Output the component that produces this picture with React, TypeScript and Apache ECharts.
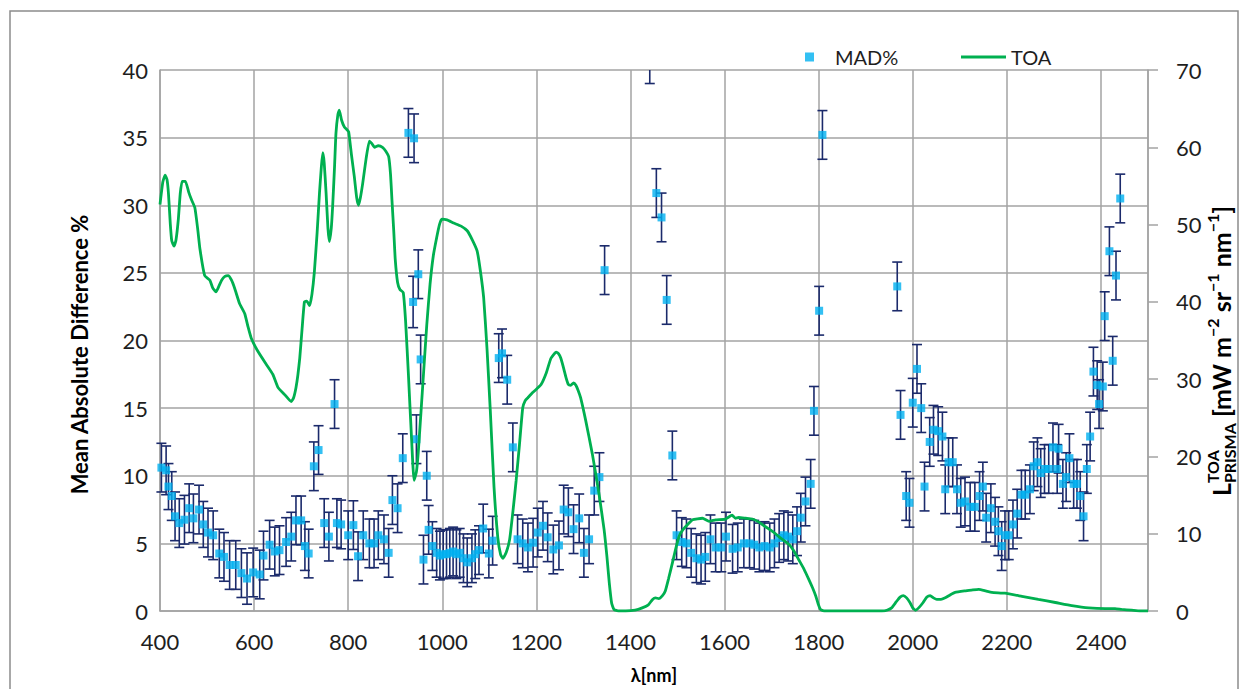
import React, { useEffect, useRef } from "react";
import * as echarts from "echarts";

// ---- Data ----
const xTicks = [400, 600, 800, 1000, 1200, 1400, 1600, 1800, 2000, 2200, 2400];

const madWavelengths = [
  403, 413, 418, 425, 432, 441, 452, 462, 471, 483, 492, 502, 513, 526, 536, 548, 561, 573, 585, 598,
  612, 620, 633, 644, 654, 668, 679, 689, 700, 708, 716, 727, 737, 749, 759, 771, 776, 785, 800, 811,
  821, 832, 845, 855, 864, 876, 886, 894, 905, 916, 928, 938, 940, 945, 949, 954, 960, 967, 971, 979,
  988, 995, 1002, 1009, 1016, 1023, 1030, 1037, 1045, 1053, 1063, 1070, 1078, 1087, 1099, 1107, 1120, 1127, 1138, 1150,
  1160, 1171, 1182, 1193, 1203, 1214, 1224, 1236, 1248, 1258, 1268, 1279, 1291, 1301, 1312, 1323, 1334, 1345, 1441, 1455,
  1466, 1477, 1489, 1498, 1509, 1519, 1529, 1540, 1550, 1559, 1570, 1581, 1593, 1603, 1617, 1628, 1641, 1653, 1663, 1674,
  1685, 1696, 1706, 1716, 1726, 1735, 1745, 1754, 1762, 1772, 1783, 1790, 1801, 1808, 1967, 1974, 1986, 1993, 2000, 2009,
  2018, 2025, 2036, 2044, 2054, 2063, 2069, 2076, 2085, 2094, 2102, 2111, 2122, 2132, 2142, 2149, 2156, 2166, 2175, 2182,
  2189, 2196, 2204, 2213, 2222, 2231, 2239, 2249, 2257, 2265, 2272, 2280, 2289, 2298, 2307, 2310, 2319, 2326, 2333, 2342,
  2349, 2356, 2363, 2370, 2377, 2384, 2392, 2396, 2404, 2408, 2418, 2425, 2432, 2441,
];

const madValues = [
  10.6, 10.4, 9.2, 8.5, 7.0, 6.5, 6.75, 7.6, 6.85, 7.5, 6.4, 5.8, 5.6, 4.25, 4.0, 3.4, 3.4, 2.8, 2.4, 2.85,
  2.7, 4.1, 4.9, 4.4, 4.5, 5.1, 5.5, 6.7, 6.7, 4.8, 4.25, 10.7, 11.9, 6.5, 5.5, 15.3, 6.5, 6.4, 5.6, 6.35,
  4.05, 5.6, 5.0, 5.0, 5.6, 5.3, 4.3, 8.2, 7.6, 11.3, 35.35, 22.85, 34.95, 12.7, 24.9, 18.6, 3.8, 10.0, 6.0, 4.8,
  4.3, 4.1, 4.2, 4.2, 4.3, 4.4, 4.2, 4.3, 3.9, 3.6, 3.9, 4.2, 4.5, 6.1, 4.25, 5.2, 18.7, 19.05, 17.1, 12.1,
  5.3, 5.0, 4.7, 5.05, 5.8, 6.3, 5.45, 4.55, 4.85, 7.5, 7.3, 6.05, 6.85, 4.3, 5.3, 8.9, 9.9, 25.2, 40.8, 30.9,
  29.1, 23.0, 11.5, 5.6, 5.1, 5.0, 4.3, 3.9, 3.8, 4.0, 5.3, 4.7, 4.7, 5.5, 4.6, 4.7, 5.0, 5.0, 4.9, 4.7,
  4.8, 4.7, 5.0, 5.4, 5.6, 5.5, 5.3, 5.9, 6.9, 8.1, 9.4, 14.8, 22.2, 35.2, 24.0, 14.5, 8.5, 8.0, 15.4, 17.9,
  15.0, 9.2, 12.5, 13.4, 13.3, 12.9, 9.0, 11.0, 11.0, 9.0, 8.0, 8.1, 7.7, 7.7, 8.5, 9.2, 6.9, 7.6, 6.6, 5.9,
  4.8, 5.6, 5.6, 6.4, 7.2, 8.6, 8.6, 9.0, 10.7, 11.0, 10.2, 10.5, 10.5, 12.1, 10.5, 12.0, 9.4, 9.9, 11.3, 9.4,
  9.4, 8.5, 7.0, 10.5, 12.9, 17.7, 16.7, 15.3, 16.6, 21.8, 26.6, 18.5, 24.8, 30.5,
];

const madErrors = [
  1.8, 1.8, 1.7, 1.8, 1.8, 1.8, 1.8, 1.8, 1.8, 1.8, 1.7, 1.8, 1.8, 1.8, 1.8, 1.8, 1.8, 1.8, 1.9, 1.8,
  1.8, 1.8, 1.8, 1.8, 1.8, 1.8, 1.8, 1.8, 1.8, 1.8, 1.8, 1.8, 1.8, 1.8, 1.8, 1.8, 1.8, 1.8, 1.8, 1.8,
  1.8, 1.8, 1.8, 1.8, 1.8, 1.8, 1.8, 1.8, 1.8, 1.8, 1.8, 1.9, 1.8, 1.8, 1.8, 1.8, 1.8, 1.8, 1.8, 1.8,
  1.8, 1.8, 1.8, 1.8, 1.8, 1.8, 1.8, 1.8, 1.8, 1.8, 1.8, 1.8, 1.8, 1.8, 1.8, 1.8, 1.8, 1.8, 1.8, 1.8,
  1.8, 1.8, 1.8, 1.8, 1.8, 1.8, 1.8, 1.8, 1.8, 1.8, 1.8, 1.8, 1.8, 1.8, 1.8, 1.8, 1.8, 1.8, 1.8, 1.8,
  1.8, 1.8, 1.8, 1.8, 1.8, 1.8, 1.8, 1.8, 1.8, 1.8, 1.8, 1.8, 1.8, 1.8, 1.8, 1.8, 1.8, 1.8, 1.8, 1.8,
  1.8, 1.8, 1.8, 1.8, 1.8, 1.8, 1.8, 1.8, 1.8, 1.8, 1.8, 1.8, 1.8, 1.8, 1.8, 1.8, 1.8, 1.8, 1.8, 1.8,
  1.8, 1.8, 1.8, 1.8, 1.8, 1.8, 1.8, 1.8, 1.8, 1.8, 1.8, 1.8, 1.8, 1.8, 1.8, 1.8, 1.8, 1.8, 1.8, 1.8,
  1.8, 1.8, 1.8, 1.8, 1.8, 1.8, 1.8, 1.8, 1.8, 1.8, 1.8, 1.8, 1.8, 1.8, 1.8, 1.8, 1.8, 1.8, 1.8, 1.8,
  1.8, 1.8, 1.8, 1.8, 1.8, 1.8, 1.8, 1.8, 1.8, 1.8, 1.8, 1.8, 1.8, 1.8,
];

const toaWavelengths = [
  400, 406, 411, 415, 418, 422, 425, 430, 434, 439, 443, 447, 454, 461, 467, 474, 480, 485, 495, 506,
  512, 519, 525, 531, 538, 545, 552, 559, 569, 580, 587, 594, 608, 626, 640, 651, 665, 679, 684, 689,
  693, 697, 702, 707, 712, 718, 723, 728, 734, 739, 743, 746, 749, 753, 757, 760, 764, 767, 771, 774,
  778, 781, 786, 792, 797, 801, 807, 813, 818, 822, 826, 831, 838, 845, 850, 856, 864, 873, 880, 886,
  890, 893, 897, 900, 905, 910, 917, 922, 928, 935, 940, 945, 949, 955, 960, 967, 974, 981, 988, 994,
  999, 1010, 1024, 1040, 1053, 1064, 1074, 1081, 1088, 1095, 1102, 1110, 1118, 1124, 1129, 1136, 1143, 1150, 1157, 1164,
  1171, 1176, 1182, 1191, 1200, 1210, 1221, 1231, 1242, 1247, 1252, 1258, 1263, 1268, 1273, 1279, 1284, 1289, 1294, 1305,
  1319, 1333, 1344, 1350, 1355, 1360, 1365, 1375, 1390, 1410, 1425, 1438, 1447, 1453, 1460, 1468, 1474, 1481, 1489, 1496,
  1503, 1510, 1517, 1532, 1553, 1567, 1581, 1602, 1616, 1623, 1630, 1645, 1659, 1673, 1687, 1702, 1716, 1737, 1748, 1758,
  1769, 1779, 1787, 1794, 1799, 1804, 1812, 1900, 1934, 1945, 1955, 1965, 1973, 1980, 1987, 1994, 2000, 2006, 2014, 2022,
  2030, 2037, 2044, 2051, 2060, 2069, 2080, 2090, 2111, 2125, 2140, 2155, 2168, 2196, 2232, 2267, 2303, 2338, 2374, 2409,
  2430, 2444, 2465, 2483, 2500,
];

const toaValues = [
  52.6, 55.5, 56.4, 55.8, 54.0, 50.0, 47.9, 47.2, 48.0, 50.7, 54.0, 55.6, 55.6, 54.2, 53.2, 52.2, 49.5, 46.8, 43.4, 42.8,
  41.8, 41.3, 42.0, 42.8, 43.3, 43.4, 42.8, 41.7, 39.8, 38.5, 36.8, 35.3, 33.6, 31.9, 30.6, 28.9, 28.0, 27.1, 27.6, 28.9,
  30.5, 32.7, 36.5, 40.0, 40.1, 39.5, 41.0, 43.8, 49.0, 54.1, 57.5, 59.3, 58.0, 54.1, 49.5, 47.8, 49.5, 52.4, 57.5, 61.8,
  64.2, 64.8, 63.5, 62.6, 62.3, 62.0, 59.0, 56.2, 53.5, 52.5, 53.5, 55.4, 58.5, 60.8, 60.5, 60.0, 60.2, 60.0, 59.5, 58.8,
  56.5, 53.2, 49.0, 45.5, 42.5, 41.6, 41.2, 37.5, 30.6, 21.9, 16.9, 18.0, 20.6, 26.0, 30.6, 37.0, 42.3, 46.0, 48.3, 50.0,
  50.7, 50.6, 50.2, 49.8, 49.2, 48.0, 46.6, 44.0, 40.5, 34.0, 26.0, 16.0, 9.5, 7.3, 6.8, 7.6, 9.2, 12.8, 16.9, 21.5,
  26.3, 27.2, 27.6, 28.2, 28.7, 29.3, 30.8, 32.7, 33.5, 33.3, 32.7, 31.4, 30.2, 29.3, 29.2, 29.5, 29.2, 28.5, 27.6, 24.6,
  20.3, 15.2, 10.5, 7.0, 3.6, 1.0, 0.2, 0.0, 0.0, 0.1, 0.4, 0.8, 1.5, 1.7, 1.6, 2.0, 2.6, 4.2, 6.2, 8.0,
  9.6, 10.4, 10.9, 11.8, 12.0, 11.6, 11.8, 11.9, 12.4, 12.0, 12.1, 12.0, 11.9, 11.5, 10.9, 10.3, 9.6, 8.6, 7.7, 6.6,
  5.4, 4.1, 3.0, 1.9, 0.9, 0.2, 0.0, 0.0, 0.0, 0.1, 0.4, 1.2, 1.8, 2.0, 1.7, 1.1, 0.4, 0.1, 0.5, 1.1,
  1.8, 2.0, 1.7, 1.5, 1.5, 1.7, 2.1, 2.4, 2.6, 2.7, 2.8, 2.6, 2.4, 2.3, 1.9, 1.5, 1.1, 0.7, 0.4, 0.3,
  0.3, 0.2, 0.1, 0.0, 0.0,
];

const FONT = "Lato, 'Open Sans', sans-serif";
const TEXT_COLOR = "#1e1e1e";
const GRID_COLOR = "#a3a3a3";

export default function App() {
  const ref = useRef<HTMLDivElement>(null);

  useEffect(() => {
    if (!ref.current) return;
    const chart = echarts.init(ref.current, undefined, { renderer: "svg" });

    const madData = madWavelengths.map((w, i) => [w, madValues[i], madErrors[i]]);
    const toaData = toaWavelengths.map((w, i) => [w, toaValues[i]]);

    // right axis title pieces (measured)
    const cv = document.createElement("canvas").getContext("2d")!;
    const big = 25;
    const small = 16;
    const measure = (t: string, s: number) => {
      cv.font = `bold ${s}px Lato`;
      return cv.measureText(t).width;
    };
    type Piece = { text: string; size: number; dy: number; stackWith?: string };
    const pieces: Piece[] = [
      { text: "L", size: big, dy: 0 },
      { text: "TOA", size: small, dy: -9, stackWith: "PRISMA" },
      { text: " [mW m", size: big, dy: 0 },
      { text: "−2", size: small, dy: -9 },
      { text: " sr", size: big, dy: 0 },
      { text: "−1", size: small, dy: -9 },
      { text: " nm", size: big, dy: 0 },
      { text: "−1", size: small, dy: -9 },
      { text: "]", size: big, dy: 0 },
    ];
    const children: any[] = [];
    let cx = 0;
    for (const p of pieces) {
      const w = measure(p.text, p.size);
      const txt = (t: string, x: number, dy: number, s: number) => ({
        type: "text",
        x,
        y: dy,
        style: {
          text: t,
          fontSize: s,
          fontWeight: "bold",
          fontFamily: FONT,
          fill: "#000",
          verticalAlign: "middle",
          align: "left",
        },
      });
      children.push(txt(p.text, cx, p.dy, p.size));
      let adv = w;
      if (p.stackWith) {
        const w2 = measure(p.stackWith, small);
        children.push(txt(p.stackWith, cx, 8, small));
        adv = Math.max(w, w2);
      }
      cx += adv;
    }
    const totalLen = cx;

    const option: any = {
      animation: false,
      textStyle: { fontFamily: FONT },
      grid: { left: 160, right: 94, top: 70, bottom: 74, containLabel: false },
      legend: [
        {
          data: [{ name: "MAD%", icon: "rect" }],
          left: 800,
          top: 42,
          itemWidth: 9,
          itemHeight: 9,
          textStyle: { fontSize: 20, fontFamily: FONT, color: TEXT_COLOR, padding: [0, 0, 0, 16] },
        },
        {
          data: [{ name: "TOA", icon: "rect" }],
          left: 956,
          top: 42,
          itemWidth: 45,
          itemHeight: 3,
          textStyle: { fontSize: 20, fontFamily: FONT, color: TEXT_COLOR },
        },
      ],
      xAxis: {
        type: "value",
        min: 400,
        max: 2500,
        interval: 200,
        name: "λ[nm]",
        nameLocation: "middle",
        nameGap: 55,
        nameTextStyle: { fontSize: 18, fontWeight: "bold", color: "#000", fontFamily: FONT },
        axisLine: { show: true, lineStyle: { color: GRID_COLOR, width: 1.5 } },
        axisTick: { show: false },
        axisLabel: {
          fontSize: 22,
          color: TEXT_COLOR,
          margin: 19,
          showMaxLabel: false,
          fontFamily: FONT,
          formatter: (v: number) => (xTicks.indexOf(v) >= 0 ? String(v) : ""),
        },
        splitLine: { show: true, lineStyle: { color: GRID_COLOR, width: 1.5 } },
      },
      yAxis: [
        {
          type: "value",
          min: 0,
          max: 40,
          interval: 5,
          name: "Mean Absolute Difference %",
          nameLocation: "middle",
          nameGap: 70,
          nameTextStyle: {
            fontSize: 22,
            fontWeight: "bold",
            color: "#000",
            fontFamily: FONT,
            padding: [0, 28, 0, 0],
          },
          axisLine: { show: true, lineStyle: { color: GRID_COLOR, width: 1.5 } },
          axisTick: { show: false },
          axisLabel: { fontSize: 22, color: TEXT_COLOR, margin: 12, fontFamily: FONT },
          splitLine: { show: true, lineStyle: { color: GRID_COLOR, width: 1.5 } },
        },
        {
          type: "value",
          min: 0,
          max: 70,
          interval: 10,
          position: "right",
          axisLine: { show: true, lineStyle: { color: GRID_COLOR, width: 1.5 } },
          axisTick: { show: true, inside: false, length: 10, lineStyle: { color: GRID_COLOR, width: 1.5 } },
          axisLabel: { fontSize: 22, color: TEXT_COLOR, margin: 28, fontFamily: FONT },
          splitLine: { show: false },
        },
      ],
      series: [
        {
          name: "MAD% err",
          type: "custom",
          yAxisIndex: 0,
          z: 2,
          data: madData,
          encode: { x: 0, y: 1 },
          renderItem: (params: any, api: any) => {
            const x = api.value(0);
            const y = api.value(1);
            const e = api.value(2);
            const top = api.coord([x, y + e]);
            const bot = api.coord([x, y - e]);
            const cs = params.coordSys;
            const yMin = cs.y;
            const yMax = cs.y + cs.height;
            const t = Math.max(top[1], yMin);
            const b = Math.min(bot[1], yMax);
            const style = { stroke: "#1b2a6b", lineWidth: 1.6 };
            const ch: any[] = [];
            if (b > t) ch.push({ type: "line", shape: { x1: top[0], y1: t, x2: top[0], y2: b }, style });
            if (top[1] >= yMin)
              ch.push({ type: "line", shape: { x1: top[0] - 5, y1: top[1], x2: top[0] + 5, y2: top[1] }, style });
            if (bot[1] <= yMax)
              ch.push({ type: "line", shape: { x1: bot[0] - 5, y1: bot[1], x2: bot[0] + 5, y2: bot[1] }, style });
            return { type: "group", children: ch };
          },
        },
        {
          name: "MAD%",
          type: "scatter",
          yAxisIndex: 0,
          z: 3,
          symbol: "rect",
          symbolSize: 8,
          itemStyle: { color: "#00b0f0" },
          data: madData.map((d) => [d[0], d[1]]),
          clip: true,
        },
        {
          name: "TOA",
          type: "line",
          yAxisIndex: 1,
          z: 4,
          symbol: "none",
          smooth: 0.15,
          lineStyle: { color: "#00b050", width: 2.8 },
          itemStyle: { color: "#00b050" },
          data: toaData,
        },
      ],
      graphic: [
        {
          type: "rect",
          silent: true,
          shape: { x: 10, y: 11, width: 1228, height: 700 },
          style: { fill: "none", stroke: "#8c8c8c", lineWidth: 1.5 },
        },
        {
          type: "group",
          x: 1221,
          y: 351 + totalLen / 2,
          rotation: Math.PI / 2,
          children,
        },
      ],
    };

    chart.setOption(option);
    return () => chart.dispose();
  }, []);

  return (
    <div
      ref={ref}
      style={{ position: "fixed", left: 0, top: 0, width: 1242, height: 689, background: "#fff" }}
    />
  );
}
